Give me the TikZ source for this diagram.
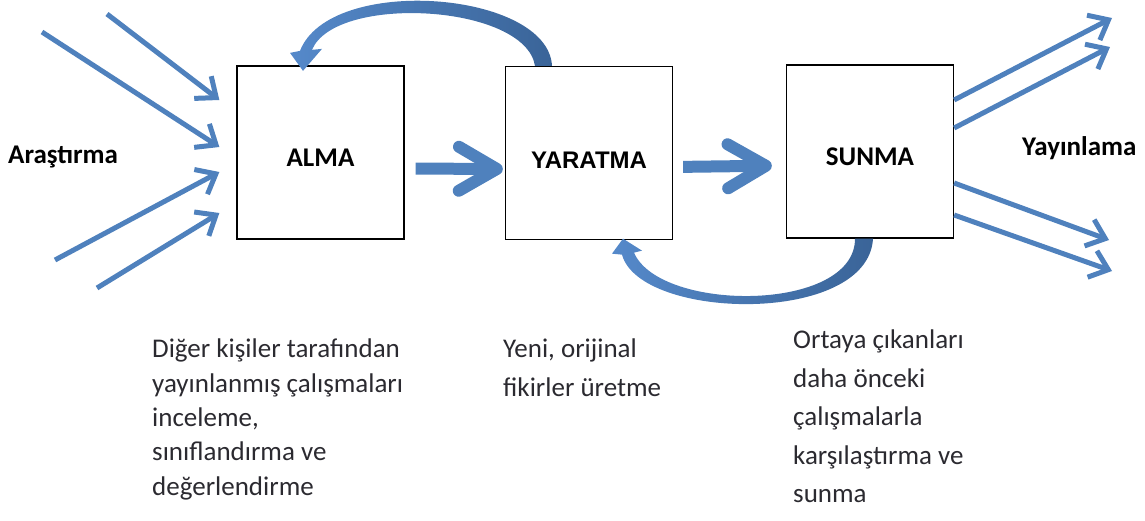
\documentclass[tikz,border=0pt]{standalone}
\usepackage{fontspec}
\setmainfont{Carlito}
\newfontfamily\arialfont{Liberation Sans}
\usetikzlibrary{arrows.meta}
\definecolor{ablue}{HTML}{4F81BD}
\definecolor{cblue}{HTML}{3A6498}
\definecolor{dblue}{HTML}{5589CA}
\definecolor{txt}{HTML}{2B2A30}
\begin{document}
\begin{tikzpicture}[x=1pt,y=-1pt,
	box/.style={draw,line width=1.3pt,minimum width=167pt,minimum height=173pt,inner sep=0pt,text height=27pt,text depth=0pt},
	lbl/.style={font=\fontsize{27}{30}\selectfont\bfseries,inner sep=0pt},
	feed/.style={ablue,line width=5pt,-{Straight Barb[length=17pt,width=28pt]}},
	bigarrow/.style={ablue,line width=12pt,-{Straight Barb[length=38pt,width=44pt,round]}},
	note/.style={txt,align=left,anchor=north west,inner sep=0pt}]
	\useasboundingbox(0,0)rectangle(1145,520);
	\node(alma)[box,lbl]at(320.5,152.5){ALMA};
	\node(yaratma)[box,text height=30pt,font=\arialfont\fontsize{24}{26}\selectfont\bfseries]at(589,153){YARATMA};
	\node(sunma)[box,lbl]at(870,151.5){SUNMA};
	\node(arastirma)[lbl,anchor=base west]at(8,163){Araştırma};
	\node(yayinlama)[lbl,anchor=base west]at(1022,155){Yayınlama};
	\coordinate(a1)at(107,14);
	\coordinate(a2)at(42,32);
	\coordinate(a3)at(55,260);
	\coordinate(a4)at(97,288);
	\coordinate(b1)at(1112,18);
	\coordinate(b2)at(1110,47);
	\coordinate(b3)at(1109,240);
	\coordinate(b4)at(1112,271);
	\draw[feed](a1)--([xshift=-17pt,yshift=52.5pt]alma.west);
	\draw[feed](a2)--([xshift=-17pt,yshift=5.5pt]alma.west);
	\draw[feed](a3)--([xshift=-17pt,yshift=-19.5pt]alma.west);
	\draw[feed](a4)--([xshift=-17pt,yshift=-60.5pt]alma.west);
	\draw[feed]([yshift=51.5pt]sunma.east)--(b1);
	\draw[feed]([yshift=23.5pt]sunma.east)--(b2);
	\draw[feed]([yshift=-31.5pt]sunma.east)--(b3);
	\draw[feed]([yshift=-63.5pt]sunma.east)--(b4);
	\draw[bigarrow,shorten <=11pt,shorten >=2pt]([yshift=-16pt]alma.east)--([yshift=-16pt]yaratma.west);
	\draw[bigarrow,shorten <=10pt,shorten >=14pt]([yshift=-14pt]yaratma.east)--([yshift=-14pt]sunma.west);
	\begin{scope}[shift={(yaratma.north)}]
		\shade[left color=dblue,right color=cblue](-37,0)..controls(-41,-75)and(-259,-92)..(-289,-15)--(-299,-13)--(-286,5)--(-267,-17)--(-277,-16)..controls(-254,-72)and(-64,-62)..(-54,0)--cycle;
	\end{scope}
	\begin{scope}[shift={(sunma.south)}]
		\shade[left color=dblue,right color=cblue](3,0)..controls(-2,87)and(-230,82)..(-248,16)--(-258,15)--(-247,0)--(-228,12)--(-236,14)..controls(-210,74)and(-15,74)..(-15,0)--cycle;
	\end{scope}
	\node(almanote)[note,font=\fontsize{27}{34.3}\selectfont]at(152,339){Diğer kişiler tarafından\\yayınlanmış çalışmaları\\inceleme,\\sınıflandırma ve\\değerlendirme};
	\node(yaratmanote)[note,font=\fontsize{27}{38.3}\selectfont]at(503,339){Yeni, orijinal\\fikirler üretme};
	\node(sunmanote)[note,font=\fontsize{27}{38.5}\selectfont]at(793,330){Ortaya çıkanları\\daha önceki\\çalışmalarla\\karşılaştırma ve\\sunma};
\end{tikzpicture}
\end{document}
